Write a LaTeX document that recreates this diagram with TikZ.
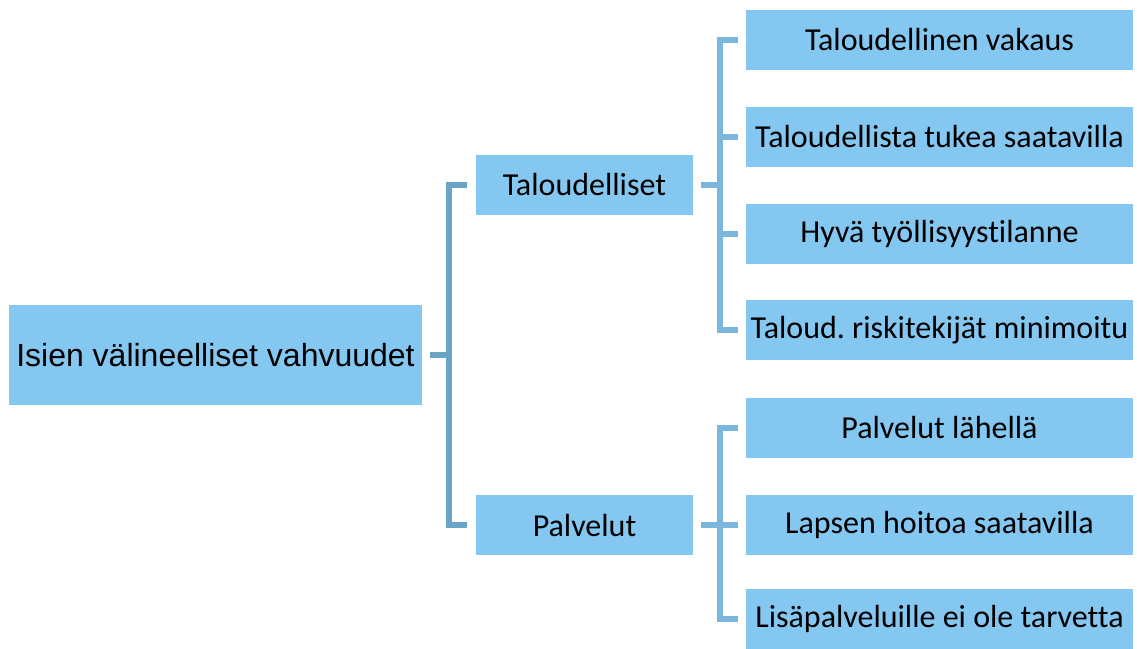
\documentclass[tikz,border=0pt]{standalone}
\usepackage{fontspec}
\setmainfont{Carlito}[Ligatures=NoCommon]
\newfontfamily\arialfont{Liberation Sans}
\definecolor{boxblue}{RGB}{132,199,240}
\definecolor{linkdark}{RGB}{107,163,197}
\definecolor{linklight}{RGB}{123,182,220}
\frenchspacing

\begin{document}
\begin{tikzpicture}[x=1pt,y=-1pt,
  box/.style={fill=boxblue,inner sep=0pt,minimum height=60pt,font=\fontsize{32}{38}\selectfont},
  rootbox/.style={box,minimum width=413pt,minimum height=100pt,font=\arialfont\fontsize{32}{38}\selectfont},
  midbox/.style={box,minimum width=217pt},
  leafbox/.style={box,minimum width=387pt},
  link1/.style={draw=linkdark,line width=6pt},
  link2/.style={draw=linklight,line width=6pt}]
\useasboundingbox (0,0) rectangle (1137,648);
% boxes
\node [rootbox] (root) at (215.5,355) {Isien välineelliset vahvuudet};
\node [midbox] (tal) at (584.5,185) {Taloudelliset};
\node [midbox] (pal) at (584.5,525) {Palvelut};
\node [leafbox] (vakaus) at (939.5,40) {Taloudellinen vakaus};
\node [leafbox] (tuki) at (939.5,137) {Taloudellista tukea saatavilla};
\node [leafbox] (tyo) at (939.5,234) {Hyvä työllisyystilanne};
\node [leafbox] (riski) at (939.5,330) {Taloud. riskitekijät minimoitu};
\node [leafbox] (lahella) at (939.5,428) {Palvelut lähellä};
\node [leafbox] (hoito) at (939.5,525) {Lapsen hoitoa saatavilla};
\node [leafbox] (lisa) at (939.5,619) {Lisäpalveluille ei ole tarvetta};
% brackets, first level
\draw [link1] ([xshift=8pt]root.east) -- ++(19,0);
\draw [link1] ([xshift=-9pt]tal.west) -- ++(-18,0) |- ([xshift=-9pt]pal.west);
% brackets, second level
\draw [link2] ([xshift=8pt]tal.east) -- ++(19,0);
\draw [link2] ([xshift=-8pt]vakaus.west) -- ++(-18,0) |- ([xshift=-8pt]riski.west);
\draw [link2] ([xshift=-8pt]tuki.west) -- ++(-18,0);
\draw [link2] ([xshift=-8pt]tyo.west) -- ++(-18,0);
\draw [link2] ([xshift=8pt]pal.east) -- ++(19,0);
\draw [link2] ([xshift=-8pt]lahella.west) -- ++(-18,0) |- ([xshift=-8pt]lisa.west);
\draw [link2] ([xshift=-8pt]hoito.west) -- ++(-18,0);
\end{tikzpicture}
\end{document}
